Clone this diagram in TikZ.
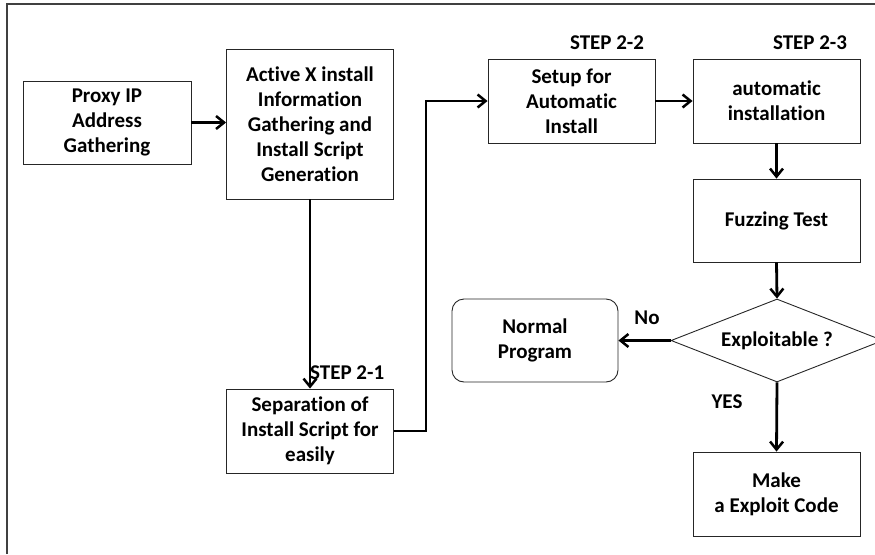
\documentclass[tikz,border=0pt]{standalone}
\usepackage{fontspec}
\setmainfont{Carlito}[Ligatures=NoCommon]
\usetikzlibrary{arrows.meta,shapes.geometric}
\begin{document}
\begin{tikzpicture}[x=1pt,y=-1pt,
  every node/.style={font=\fontsize{21}{25}\selectfont\bfseries},
  procbox/.style={draw=black!85,line width=0.9pt,minimum width=167pt,align=center,inner sep=0pt},
  roundbox/.style={procbox,rounded corners=12pt},
  decision/.style={draw=black!85,line width=0.9pt,diamond,aspect=2.5,inner sep=0pt,minimum width=212pt,minimum height=83pt},
  steplabel/.style={inner sep=0pt},
  flow/.style={line width=2.8pt,-{Straight Barb[length=8pt,width=13pt,line width=2.5pt]}}]
\useasboundingbox (0,0) rectangle (875,554);
% outer frame (top and left edges)
\draw[line width=1.2pt,black!75] (7,554) -- (7,4) -- (880,4);

\node[procbox,minimum width=168pt,minimum height=83pt] (proxy) at (107,122.5) {Proxy IP\\Address\\Gathering};
\node[procbox,minimum height=150pt] (activex) at (310,124) {Active X install\\Information\\Gathering and\\Install Script\\Generation};
\node[procbox,minimum height=84pt] (sep) at (310,431) {Separation of\\Install Script for\\easily};
\node[procbox,minimum height=84pt] (setup) at (571.5,101) {Setup for\\Automatic\\Install};
\node[procbox,minimum height=84pt] (auto) at (776.5,101) {automatic\\installation};
\node[procbox,minimum height=83pt] (fuzz) at (776.5,220.5) {Fuzzing Test};
\node[decision] (dia) at (777,340.5) {Exploitable ?};
\node[roundbox,minimum width=166pt,minimum height=83pt] (normal) at (535,340.5) {Normal\\Program};
\node[procbox,minimum height=84pt] (exploit) at (776.5,494) {Make\\a Exploit Code};

\node[steplabel,anchor=west] (s21) at (310,373) {STEP 2-1};
\node[steplabel] (s22) at (607,43) {STEP 2-2};
\node[steplabel] (s23) at (810,43) {STEP 2-3};
\node[steplabel] (no) at (647,318) {No};
\node[steplabel] (yes) at (727,402) {YES};

\draw[flow] (proxy.east) -- (activex.west |- proxy.east);
\draw[flow] (activex.south) -- (sep.north);
\draw[flow] (sep.east) -- ++(32,0) |- (setup.west);
\draw[flow] (setup.east) -- (auto.west);
\draw[flow] (auto.south) -- (fuzz.north);
\draw[flow] (fuzz.south) -- (dia.north);
\draw[flow] (dia.west) -- (normal.east);
\draw[flow] (dia.south) -- (exploit.north);
\end{tikzpicture}
\end{document}
